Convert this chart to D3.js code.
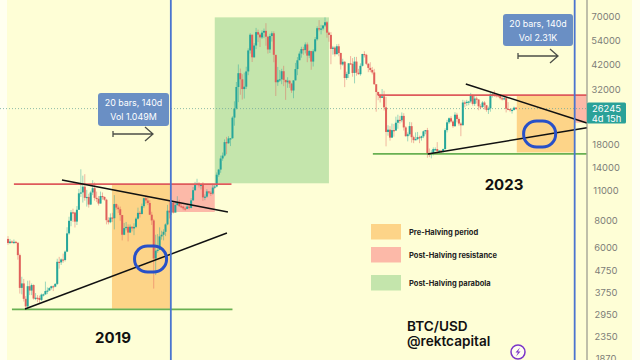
<!DOCTYPE html>
<html><head><meta charset="utf-8">
<script src="https://cdn.jsdelivr.net/npm/d3@7"></script>
<style>html,body{margin:0;padding:0;background:#fffff0}svg{display:block}text{font-family:Inter,"Noto Sans",sans-serif}</style>
</head><body><svg id="c" width="640" height="360"></svg>
<script>
const firstOpen = 6600;
const closes = [
6320,6420,6380,6400,6340,5560,3930,4120,3500,3230,
4000,3820,4050,3510,3540,3530,3460,3660,3670,3800,
3820,3920,4000,3980,4100,5180,5150,5310,5280,5770,
7000,8000,8750,8730,7930,8990,10700,10800,11480,10200,
10300,9500,10800,11300,10200,10100,9600,10400,10300,10000,
8050,7880,8280,8220,9550,9200,9040,8500,6900,7400,
7500,7060,7510,7380,7500,8180,8700,8600,9340,10160,
9920,9660,8530,8030,5360,5830,5880,6780,6900,7120,
7700,8900,8730,9670,8720,9450,9670,9340,9300,9120,
9070,9300,9170,9930,11060,11680,11850,11650,11710,10250,
10330,10920,10770,10670,11370,11500,13030,13760,15480,15960,
18400,18180,19140,19170,23860,26280,33000,38200,35800,32280,
33100,38900,48600,57400,45200,51200,59000,57500,55800,58700,
59800,56200,49100,56600,58300,46400,34700,35600,35800,39000,
35600,34700,35300,34200,31800,35400,39900,43800,47000,49300,
48800,51800,46000,48300,43200,48200,54700,61500,60900,61300,
63300,65500,58700,57300,49400,50100,46700,50800,47300,41900,
43100,36300,37900,42400,42200,38300,43200,38400,37800,41300,
46800,46400,42200,40400,39500,38500,34000,31300,30300,29400,
29900,26600,20500,21000,19300,20900,20800,22600,23300,23200,
24300,21500,19600,20000,21800,19400,18800,19000,19400,19260,
19570,20630,20900,16300,16280,16420,17100,17100,16740,16840,
16600,17100,20900,22700,23700,22900,21800,24600,23500,22400,
22000,28000,27900,28200,28300,30300,27600,29200,28900,26900,
26700,28000,27200,25900,26300,30500,30600,30300,30200,30000,
29300,29050,29300,26200,26100,25900,25900,26500,26245];
const highs = [
6800,6600,6500,6560,6470,6350,5650,4420,4320,3600,
4240,4250,4120,4080,3720,3640,3620,3700,3700,4200,
3950,3960,4020,4040,4130,5350,5460,5370,5650,5840,
7470,8350,8960,9090,8800,9350,11200,13800,12900,13100,
11100,10650,11000,12300,12000,10900,10400,10900,10800,10350,
10100,8300,8650,8700,10500,9600,9400,9300,8500,7820,
7900,7700,7690,7530,7790,8300,9190,8850,9600,10200,
10500,10350,9950,8800,8160,6900,6950,7460,7200,7310,
7780,9470,9960,9900,9840,9740,10380,9990,9590,9390,
9300,9440,9390,10160,11440,12080,12480,12050,11800,12050,
10580,11180,10950,10950,11720,11700,13350,13860,15950,16480,
18950,19450,19600,19200,24200,28350,34800,41900,40100,37800,
38400,40900,49700,58350,57500,52500,61700,60600,58400,60100,
61300,64850,56700,58000,59500,59500,45700,40800,39500,40000,
41300,35500,36600,35400,34500,35400,42600,45300,48100,50500,
50500,52900,52900,48800,48000,49200,56000,62700,67000,63700,
63500,69000,66300,59400,59000,51000,50800,51900,52100,47500,
44500,43500,38800,42500,45800,44800,45400,45400,40000,42400,
46900,48200,46900,42500,42900,40800,40000,32500,31400,30700,
32300,31700,29700,22000,21800,22400,22300,24100,24600,24300,
25200,25000,21800,20400,22800,22700,19700,20400,20500,19700,
19700,20800,20900,21400,17200,16900,17400,17400,18400,16900,
16800,17200,21300,23300,23900,24200,23200,25250,25100,23900,
22700,28800,28600,28800,28500,31000,30500,30000,29800,29000,
27500,28400,28400,27200,26800,31400,31300,31800,30400,30300,
29900,29700,30200,29700,28100,26100,26400,26800,26700];
const lows = [
6200,6250,6300,6250,6290,5300,3700,3670,3400,3130,
3170,3640,3640,3470,3450,3380,3340,3420,3590,3650,
3680,3820,3860,3800,3960,4050,4820,5010,5130,5200,
5740,6900,7550,7900,7450,7650,8980,10300,9700,9900,
9300,9200,9450,10500,9900,9750,9400,9600,10000,9900,
7700,7700,7800,7900,7300,9000,8700,8000,6500,6870,
7230,6430,7050,7150,6870,7400,8100,8280,8550,9150,
9580,9450,8500,7650,3900,4500,5700,5860,6550,6500,
6800,7630,8200,8500,8640,8800,9380,9250,9150,8950,
8900,9050,9020,9130,9900,10980,11650,11370,11150,9880,
9950,10200,10600,10400,10550,11220,11400,12750,13300,15100,
15800,16200,18100,17650,19100,21900,26000,28100,30400,28900,
29200,32300,37400,47000,43000,44950,49300,53100,50400,54900,
55400,51100,47000,47300,53400,42900,30000,33400,34800,34000,
33300,28800,32700,32700,31000,29300,35400,37400,43900,45000,
46400,47100,42900,44800,39600,41000,47700,53900,59500,57600,
60100,62300,55600,53300,42000,46500,45600,46700,45700,39700,
41400,32950,35600,36300,41800,36800,34300,37200,37600,37200,
41000,45100,41600,38600,38600,37700,33700,25400,28700,28000,
29400,25700,17600,19700,18700,19300,19500,20800,21200,22400,
22700,20800,19500,18550,19700,18300,18200,18800,18800,18200,
18700,19200,20000,15600,15700,15500,16000,16700,16300,16500,
16300,16500,17000,20400,22300,22600,21400,21600,22700,21900,
19600,22000,26600,27000,27200,27800,27100,27000,27700,25800,
26100,26400,26000,25400,24800,25400,29500,29700,29500,29500,
28900,28600,28700,25200,25800,25400,24900,25700,25900];

const tickLabels = [70000,54000,42000,32000,18000,14000,11000,8000,6000,4750,3750,2950,2350,1870];
const lastPrice = 26245;
const lastLabel = "26245";
const countdown = "4d 15h";
const halvingBars = [82.7, 287.8];
// zone: first bar, last bar, upper price, lower price, colour
const zones = [
 [52.8,82.7,11800,3150,"#fdd488"],
 [82.7,105,11800,8780,"#fcb9a8"],
 [105,163,69000,11900,"#c4e5ac"],
 [258.4,287.8,30300,16500,"#fdd488"],
 [287.8,293.8,30300,22600,"#fcb9a8"]];
// level: first bar, last bar, price, colour
const levels = [
 [3,113.5,11800,"#de5a5c"],
 [2,114,3130,"#68b052"],
 [187.8,293.8,30300,"#de5a5c"],
 [185.3,293.8,16250,"#68b052"]];
// trend: bar a, price a, bar b, price b
const trends = [
 [27.4,12320,111.7,8780],
 [8.6,3140,111.2,7025],
 [232.5,34060,294,22550],
 [213.2,16230,294,21440]];
const circles = [[72.4,5335],[270,20050]];
const tipTexts = [["20 bars, 140d","Vol 1.049M"],["20 bars, 140d","Vol 2.31K"]];
const legendNames = ["Pre-Halving period","Post-Halving resistance","Post-Halving parabola"];
const legendColours = ["#fdd488","#fcb9a8","#c4e5ac"];
const yearLabels = ["2019","2023"];

const svg = d3.select("#c");
const x = d3.scaleLinear().domain([0,258]).range([8,516]);
const y = d3.scaleLog().domain([70000,1870]).range([16,358]);
const up="#26a69a", down="#e0605a";

svg.append("rect").attr("x",7).attr("y",0).attr("width",625).attr("height",360).attr("fill","#fefed6");

svg.append("g").selectAll("rect").data(zones).join("rect")
 .attr("x",d=>x(d[0])).attr("width",d=>x(d[1])-x(d[0]))
 .attr("y",d=>y(d[2])).attr("height",d=>y(d[3])-y(d[2])).attr("fill",d=>d[4]);

svg.append("line").attr("x1",0).attr("x2",587).attr("y1",y(lastPrice)).attr("y2",y(lastPrice))
 .attr("stroke","#6fa89a").attr("stroke-width",0.8).attr("stroke-dasharray","1 2");

const bars = closes.map((c,i)=>({i,o:i?closes[i-1]:firstOpen,c,h:highs[i],l:lows[i]}));
const cg = svg.append("g").style("filter","blur(0.3px)");
cg.selectAll("line").data(bars).join("line")
 .attr("x1",d=>x(d.i)).attr("x2",d=>x(d.i)).attr("y1",d=>y(d.h)).attr("y2",d=>y(d.l))
 .attr("stroke",d=>d.c>=d.o?up:down).attr("stroke-width",0.9).attr("stroke-opacity",0.5);
cg.selectAll("rect").data(bars).join("rect")
 .attr("x",d=>x(d.i)-1).attr("width",2)
 .attr("y",d=>y(Math.max(d.o,d.c))).attr("height",d=>Math.max(1.2,Math.abs(y(d.o)-y(d.c))))
 .attr("fill",d=>d.c>=d.o?up:down);

svg.append("g").selectAll("line").data(levels).join("line")
 .attr("x1",d=>x(d[0])).attr("x2",d=>x(d[1])).attr("y1",d=>y(d[2])).attr("y2",d=>y(d[2]))
 .attr("stroke",d=>d[3]).attr("stroke-width",1.7);
svg.append("g").selectAll("line").data(trends).join("line")
 .attr("x1",d=>x(d[0])).attr("y1",d=>y(d[1])).attr("x2",d=>x(d[2])).attr("y2",d=>y(d[3]))
 .attr("stroke","#111").attr("stroke-width",1.5);
svg.append("g").selectAll("line").data(halvingBars).join("line")
 .attr("x1",d=>x(d)).attr("x2",d=>x(d)).attr("y1",0).attr("y2",360)
 .attr("stroke","#4a74cf").attr("stroke-width",1.8);
svg.append("g").selectAll("rect").data(circles).join("rect")
 .attr("x",d=>x(d[0])-16).attr("y",d=>y(d[1])-13).attr("width",32).attr("height",26).attr("rx",13).attr("ry",12.5)
 .attr("fill","none").attr("stroke","#2850c8").attr("stroke-width",3);

// price axis
svg.append("line").attr("x1",587).attr("x2",587).attr("y1",0).attr("y2",360).attr("stroke","#80807c").attr("stroke-width",1);
const axis = d3.axisRight(y).tickValues(tickLabels).tickSize(0).tickPadding(0).tickFormat(d3.format("d"));
const ag = svg.append("g").attr("transform","translate(606,0)").call(axis);
ag.select(".domain").remove();
ag.selectAll("text").attr("text-anchor","middle").attr("fill","#7d7d78").attr("font-size",9.4);

svg.append("rect").attr("x",587).attr("y",y(lastPrice)-6).attr("width",39).attr("height",21).attr("rx",1.5).attr("fill","#2aa198");
svg.append("text").attr("x",606.5).attr("y",y(lastPrice)+3.2).attr("text-anchor","middle").attr("fill","#fff").attr("font-size",9.4).text(lastLabel);
svg.append("text").attr("x",606.5).attr("y",y(lastPrice)+13).attr("text-anchor","middle").attr("fill","#fff").attr("font-size",9.4).text(countdown);

// measure tooltips
const tips=[{x:98,y:93,w:71,h:33,ax:[113,153],ay:134,t:tipTexts[0]},{x:503,y:14,w:70,h:32,ax:[518,558],ay:56,t:tipTexts[1]}];
tips.forEach(t=>{
 svg.append("rect").attr("x",t.x).attr("y",t.y).attr("width",t.w).attr("height",t.h).attr("rx",3).attr("fill","#6a8fc4");
 t.t.forEach((s,i)=>svg.append("text").attr("x",t.x+t.w/2).attr("y",t.y+12.5+i*14).attr("text-anchor","middle").attr("fill","#fff").attr("font-size",8.9).text(s));
 svg.append("path").attr("d",`M${t.ax[0]},${t.ay-3}V${t.ay+3}M${t.ax[0]},${t.ay}H${t.ax[1]}M${t.ax[1]-8},${t.ay-7}L${t.ax[1]},${t.ay}L${t.ax[1]-8},${t.ay+7}`)
  .attr("fill","none").attr("stroke","#4c4f48").attr("stroke-width",1.3);
});

// year labels
[[113,343],[504,190]].forEach((p,i)=>svg.append("text").attr("x",p[0]).attr("y",p[1]).attr("text-anchor","middle")
 .attr("font-size",15).attr("font-weight",700).attr("fill","#111").text(yearLabels[i]));

// legend
const legY=[224,247,275];
legendNames.forEach((n,i)=>{
 svg.append("rect").attr("x",371).attr("y",legY[i]).attr("width",30).attr("height",15.5).attr("fill",legendColours[i]);
 svg.append("text").attr("x",409).attr("y",legY[i]+10.5).attr("font-size",7.5).attr("font-weight",700).attr("fill","#222").text(n);
});

svg.append("text").attr("x",407).attr("y",331).attr("font-size",13.6).attr("font-weight",600).attr("fill","#111").text("BTC/USD");
svg.append("text").attr("x",407).attr("y",346).attr("font-size",13.6).attr("font-weight",600).attr("fill","#111").text("@rektcapital");

// bolt badge
svg.append("circle").attr("cx",518).attr("cy",352).attr("r",7).attr("fill","#fffdf0").attr("stroke","#7b35c8").attr("stroke-width",1.5);
svg.append("path").attr("d","M520,347.5L515.5,352.5H518L516,356.5L520.5,351.5H518Z").attr("fill","#7b35c8");
</script></body></html>
